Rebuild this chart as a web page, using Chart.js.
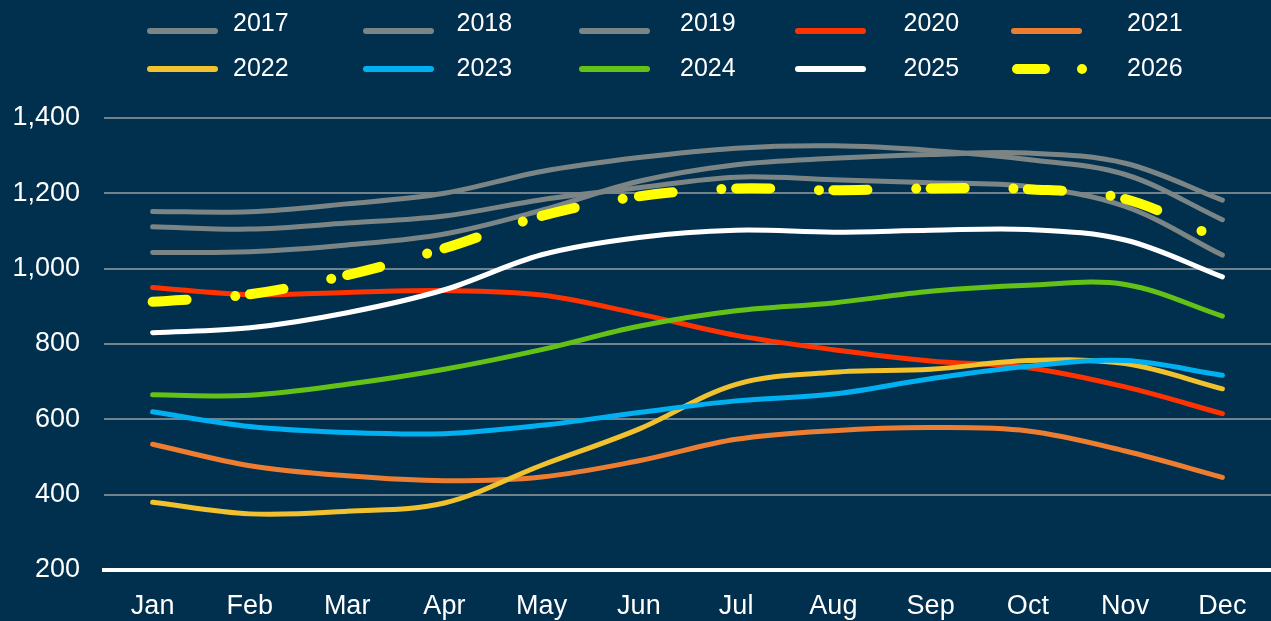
<!DOCTYPE html>
<html>
<head>
<meta charset="utf-8">
<script src="https://cdn.jsdelivr.net/npm/chart.js@4"></script>
<style>
  html, body { margin: 0; padding: 0; background: #00304e; }
  #wrap { width: 1271px; height: 621px; position: relative; }
</style>
</head>
<body>
<div id="wrap"><canvas id="chart"></canvas></div>
<script>
const months = ['Jan', 'Feb', 'Mar', 'Apr', 'May', 'Jun', 'Jul', 'Aug', 'Sep', 'Oct', 'Nov', 'Dec'];
const yTicks = [200, 400, 600, 800, 1000, 1200, 1400];

const y2017 = [1111, 1105, 1121, 1140, 1183, 1215, 1243, 1236, 1228, 1218, 1165, 1036];
const y2018 = [1152, 1151, 1172, 1200, 1258, 1295, 1320, 1326, 1314, 1290, 1250, 1130];
const y2019 = [1043, 1045, 1063, 1092, 1155, 1232, 1276, 1293, 1303, 1307, 1280, 1182];
const y2020 = [950, 931, 937, 942, 930, 880, 823, 785, 755, 737, 686, 615];
const y2021 = [534, 477, 450, 437, 447, 490, 547, 570, 578, 569, 516, 446];
const y2022 = [380, 349, 356, 378, 478, 574, 693, 725, 733, 756, 748, 681];
const y2023 = [620, 581, 565, 562, 584, 618, 649, 667, 708, 741, 756, 717];
const y2024 = [665, 664, 693, 733, 785, 847, 888, 909, 940, 956, 958, 874];
const y2025 = [830, 843, 883, 944, 1037, 1083, 1102, 1097, 1102, 1104, 1076, 978];
const y2026 = [912, 932, 983, 1054, 1140, 1192, 1213, 1208, 1213, 1211, 1185, 1075];

const GREY = '#7b8585';
const FONT = "'Liberation Sans', Arial, sans-serif";

function line(label, data, color, width) {
    return {
        label: label,
        data: data,
        borderColor: color,
        backgroundColor: color,
        borderWidth: width || 5,
        borderCapStyle: 'round',
        pointRadius: 0,
        tension: 0.35,
        fill: false
    };
}

const ds2026 = line('2026', y2026, '#ffff00', 10);
ds2026.borderDash = [34, 49, 0.01, 40];
// restart the dash pattern at every month like the original
ds2026.segment = { borderDashOffset: c => (c.p0DataIndex % 2) * 0.001 };

const datasets = [
    line('2017', y2017, GREY),
    line('2018', y2018, GREY),
    line('2019', y2019, GREY),
    line('2020', y2020, '#ff3300'),
    line('2021', y2021, '#ed7d31'),
    line('2022', y2022, '#f2c12e'),
    line('2023', y2023, '#00b0f0'),
    line('2024', y2024, '#64c217'),
    line('2025', y2025, '#ffffff'),
    ds2026
];
// later years on top
datasets.forEach((d, i) => { d.order = datasets.length - i; });

const yearLegend = {
    id: 'yearLegend',
    afterDraw(chart) {
        const ctx = chart.ctx;
        chart.data.datasets.forEach((ds, i) => {
            const col = i % 5, row = Math.floor(i / 5);
            const lineY = row ? 69 : 31;
            const textY = row ? 69 : 24;
            const x0 = 150 + col * 216;
            ctx.save();
            ctx.strokeStyle = ds.borderColor;
            ctx.lineCap = 'round';
            ctx.beginPath();
            if (ds.borderDash) {
                ctx.lineWidth = 10;
                ctx.setLineDash([28, 37, 0.01, 100]);
                ctx.moveTo(x0 + 3, lineY);
                ctx.lineTo(x0 + 70, lineY);
            } else {
                ctx.lineWidth = 6;
                ctx.moveTo(x0, lineY);
                ctx.lineTo(x0 + 65, lineY);
            }
            ctx.stroke();
            ctx.setLineDash([]);
            ctx.fillStyle = '#ffffff';
            ctx.font = '25px ' + FONT;
            ctx.textBaseline = 'middle';
            ctx.textAlign = 'left';
            ctx.fillText(ds.label, 233 + col * 223.5, textY);
            ctx.restore();
        });
    }
};

new Chart(document.getElementById('chart'), {
    type: 'line',
    data: { labels: months, datasets: datasets },
    options: {
        responsive: true,
        maintainAspectRatio: false,
        animation: false,
        layout: { padding: { top: 118, left: 0, right: 0, bottom: 0 } },
        plugins: {
            legend: { display: false },
            tooltip: { enabled: false }
        },
        scales: {
            x: {
                offset: true,
                grid: { display: false, drawTicks: false },
                border: { display: true, color: '#ffffff', width: 4 },
                ticks: { color: '#ffffff', font: { family: FONT, size: 27 }, padding: 20 },
                afterFit: s => { s.height = 51; }
            },
            y: {
                min: yTicks[0],
                max: yTicks[yTicks.length - 1],
                afterBuildTicks: s => { s.ticks = yTicks.map(v => ({ value: v })); },
                grid: { color: '#72828c', lineWidth: 2, drawTicks: false },
                border: { display: false },
                ticks: { color: '#ffffff', font: { family: FONT, size: 27 }, padding: 24 },
                afterFit: s => { s.width = 104; }
            }
        }
    },
    plugins: [yearLegend]
});
</script>
</body>
</html>
